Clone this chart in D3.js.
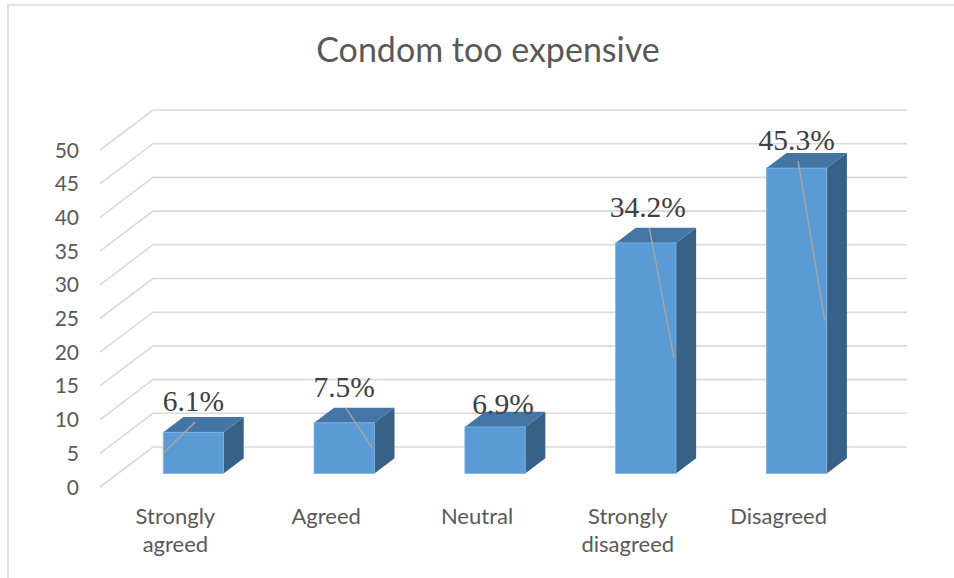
<!DOCTYPE html>
<html>
<head>
<meta charset="utf-8">
<script src="https://cdn.jsdelivr.net/npm/d3@7"></script>
<style>
  html, body { margin: 0; padding: 0; background: #ffffff; }
  svg { display: block; }
</style>
</head>
<body>
<svg id="chart" width="954" height="578"></svg>
<script>
// ---- data ----
const categories = ["Strongly agreed", "Agreed", "Neutral", "Strongly disagreed", "Disagreed"];
const percentages = [6.1, 7.5, 6.9, 34.2, 45.3];
const yTicks = [0, 5, 10, 15, 20, 25, 30, 35, 40, 45, 50];
const titleText = "Condom too expensive";

// ---- layout ----
const W = 954, H = 578;
const frontLeft = 100, plotWidth = 754;
const depthX = 53, depthY = 40;          // oblique offset of the back wall
const barZ0 = 0.34, barZ1 = 0.72;        // bar depth as fraction of floor depth
// label placement relative to the front-top centre of each bar, and leader side
const labelNudge = [[0, -21], [0, -26], [8, -13], [2, -26], [0, -18]];
const leaderSide = ["left", "right", null, "right", "right"];

const colors = {
  grid: "#d9d9d9", front: "#5b9bd5", top: "#4475a4", side: "#386187",
  edge: "#7fb0df", text: "#595959", label: "#404040", leader: "#a6a6a6"
};

const svg = d3.select("#chart");

// chart frame
svg.append("rect")
  .attr("x", 8).attr("y", 5).attr("width", W + 20).attr("height", H + 20)
  .attr("fill", "none").attr("stroke", colors.grid).attr("stroke-width", 1.5);

const y = d3.scaleLinear().domain([0, 50]).range([487, 150]);
const x = d3.scaleBand().domain(categories)
  .range([frontLeft, frontLeft + plotWidth])
  .paddingInner(0.6).paddingOuter(0.3);

// project a point at depth z (0 = front, 1 = back wall)
const px = (xf, z) => xf + z * depthX;
const py = (v, z) => y(v) - z * depthY;

// title
svg.append("text")
  .attr("x", 488).attr("y", 62)
  .attr("text-anchor", "middle")
  .attr("font-family", "Lato, 'Open Sans', sans-serif")
  .attr("font-size", 34)
  .attr("fill", colors.text)
  .text(titleText);

// gridlines: side-wall diagonal + back-wall horizontal
const grid = svg.append("g").attr("fill", "none")
  .attr("stroke", colors.grid).attr("stroke-width", 1.6);
yTicks.forEach(t => {
  grid.append("path").attr("d", d3.line()([
    [px(frontLeft, 0), py(t, 0)],
    [px(frontLeft, 1), py(t, 1)],
    [px(frontLeft + plotWidth, 1), py(t, 1)]
  ]));
});

// y axis labels
svg.append("g").selectAll("text").data(yTicks).join("text")
  .attr("x", 79).attr("y", d => y(d))
  .attr("dy", "0.36em")
  .attr("text-anchor", "end")
  .attr("font-family", "Lato, 'Open Sans', sans-serif")
  .attr("font-size", 21)
  .attr("fill", colors.text)
  .text(d => d);

// bars
const bars = svg.append("g");
const dd = (barZ1 - barZ0) * depthX, dz = (barZ1 - barZ0) * depthY;
categories.forEach((c, i) => {
  const v = percentages[i];
  const x0 = px(x(c), barZ0), x1 = x0 + x.bandwidth();
  const yT = py(v, barZ0), yB = py(0, barZ0);
  const g = bars.append("g");
  g.append("path")
    .attr("d", d3.line()([[x1, yT], [x1 + dd, yT - dz], [x1 + dd, yB - dz], [x1, yB]]) + "Z")
    .attr("fill", colors.side);
  g.append("path")
    .attr("d", d3.line()([[x0, yT], [x1, yT], [x1 + dd, yT - dz], [x0 + dd, yT - dz]]) + "Z")
    .attr("fill", colors.top);
  g.append("rect")
    .attr("x", x0).attr("y", yT).attr("width", x1 - x0).attr("height", yB - yT)
    .attr("fill", colors.front).attr("stroke", colors.edge).attr("stroke-width", 0.8);
});

// data labels with leader lines
const labels = svg.append("g");
categories.forEach((c, i) => {
  const v = percentages[i];
  const x0 = px(x(c), barZ0), x1 = x0 + x.bandwidth();
  const cx = (x0 + x1) / 2 + labelNudge[i][0];
  const base = py(v, barZ0) + labelNudge[i][1];
  if (leaderSide[i]) {
    const ex = leaderSide[i] === "left" ? x0 + 0.5 : x1 - 2;
    labels.append("line")
      .attr("x1", cx + 1.5).attr("y1", base + 11)
      .attr("x2", ex).attr("y2", py(v / 2, barZ0))
      .attr("stroke", colors.leader).attr("stroke-width", 1.4);
  }
  labels.append("text")
    .attr("x", cx).attr("y", base)
    .attr("text-anchor", "middle")
    .attr("font-family", "'Liberation Serif', 'Times New Roman', serif")
    .attr("font-size", 29.5)
    .attr("fill", colors.label)
    .text(v.toFixed(1) + "%");
});

// category labels, wrapped to two lines where needed
const catLines = c => c.startsWith("Strongly ") ? ["Strongly", c.slice(9)] : [c];
svg.append("g").selectAll("text").data(categories).join("text")
  .attr("x", c => x(c) + x.bandwidth() / 2)
  .attr("y", 524)
  .attr("text-anchor", "middle")
  .attr("font-family", "Lato, 'Open Sans', sans-serif")
  .attr("font-size", 22)
  .attr("fill", colors.text)
  .each(function (c) {
    d3.select(this).selectAll("tspan").data(catLines(c)).join("tspan")
      .attr("x", x(c) + x.bandwidth() / 2)
      .attr("dy", (d, j) => j === 0 ? 0 : 28)
      .text(d => d);
  });
</script>
</body>
</html>
